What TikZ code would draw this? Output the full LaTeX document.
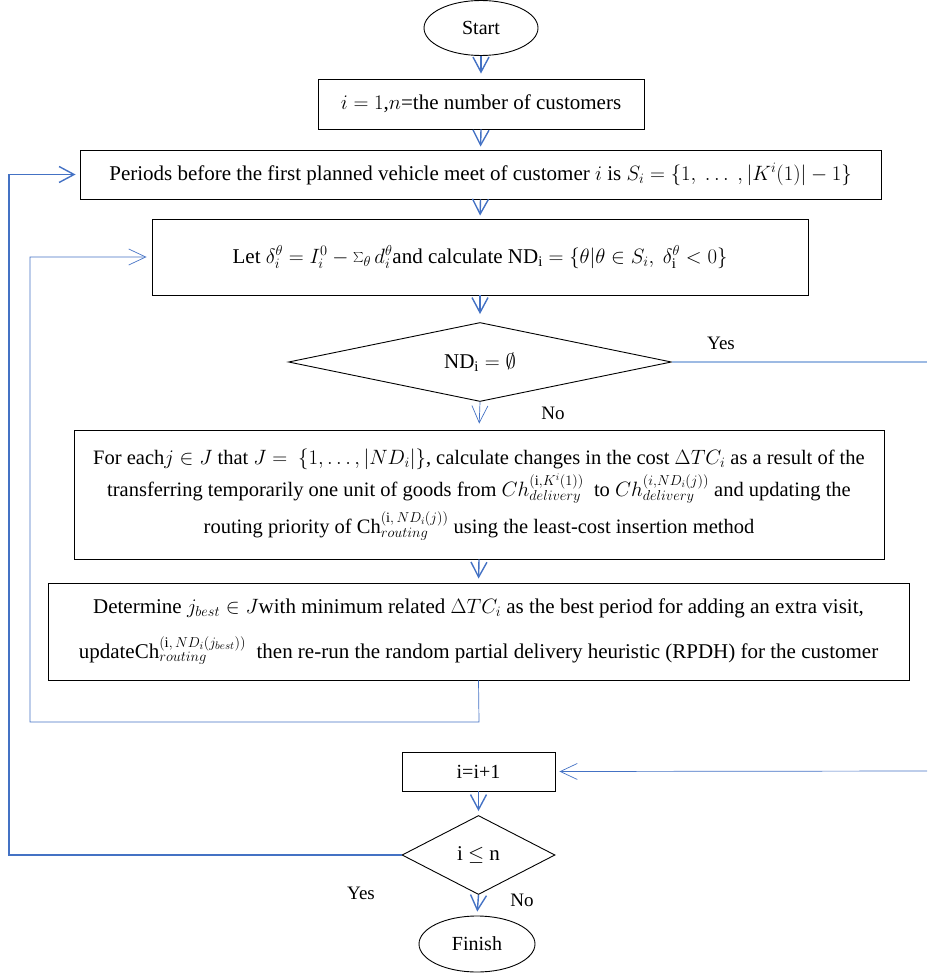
\documentclass[tikz,border=0pt]{standalone}
\usepackage{fontspec}
\setmainfont{Liberation Serif}
\usetikzlibrary{shapes.geometric,arrows.meta}
\definecolor{flowblue}{HTML}{4472C4}
\definecolor{paleblue}{HTML}{9DBAE3}
\begin{document}
\begin{tikzpicture}[x=1pt,y=-1pt,
  box/.style={draw=black,line width=0.9pt,inner sep=0pt,align=center,
    font=\fontsize{21}{34}\selectfont},
  term/.style={draw=black,line width=0.9pt,ellipse,inner sep=0pt,
    font=\fontsize{20}{22}\selectfont},
  test/.style={draw=black,line width=0.9pt,diamond,inner sep=0pt,
    font=\fontsize{21}{24}\selectfont},
  lbl/.style={font=\fontsize{19}{21}\selectfont,inner sep=0pt},
  flow/.style={draw=flowblue,line width=1.4pt,
    -{Straight Barb[length=15pt,width=16pt,line width=1.4pt]}},
  thinflow/.style={draw=flowblue,line width=0.7pt,
    -{Straight Barb[length=17pt,width=16pt,line width=0.7pt]}},
  yesline/.style={draw=paleblue,line width=1.5pt}]
\useasboundingbox (0,0) rectangle (927,976);

% process steps
\node[term,minimum width=114,minimum height=55] (start) at (481,28) {Start};
\node[box,minimum width=326,minimum height=50] (init) at (481,104)
  {$i = 1$,$n$=the number of customers};
\node[box,minimum width=801,minimum height=49] (periods) at (480.5,174.5)
  {Periods before the first planned vehicle meet of customer $i$ is
   $S_i = \{1,\ \dots\ ,|K^i(1)| - 1\}$};
\node[box,minimum width=656,minimum height=76] (delta) at (480,257)
  {Let $\delta_i^\theta = I_i^0 - \sum_\theta d_i^\theta$and calculate
   $\mathrm{ND_i} = \{\theta|\theta \in S_i,\ \delta^{\theta}_{\mathrm{i}} < 0\}$};
\node[test,minimum width=383,minimum height=79,aspect=4.85] (empty) at (480,362)
  {$\mathrm{ND_i} = \emptyset$};
\node[box,minimum width=810,minimum height=129,font=\fontsize{20.5}{34}\selectfont] (eval) at (479,494.5)
  {For each$j \in J$ that $J =\ \{1, \dots, |ND_i|\}$,\ calculate changes in the cost $\Delta TC_i$ as a result of the\\[-2pt]
   transferring temporarily one unit of goods from $Ch_{delivery}^{(\mathrm{i},K^i(1))}$\ \ to $Ch_{delivery}^{(i,ND_i(j))}$ and updating the\\[3pt]
   routing priority of $\mathrm{Ch}_{routing}^{(\mathrm{i},\,ND_i(j))}$ using the least-cost insertion method};
\node[box,minimum width=861,minimum height=97] (best) at (478.5,631.5)
  {Determine $j_{best} \in J$with minimum related $\Delta TC_i$ as the best period for adding an extra visit,\\[11pt]
   update$\mathrm{Ch}_{routing}^{(\mathrm{i},\,ND_i(j_{best}))}$\ \ then re-run the random partial delivery heuristic (RPDH) for the customer};
\node[box,minimum width=153,minimum height=39,font=\fontsize{20}{22}\selectfont] (next) at (478.5,771.5) {i=i+1};
\node[test,minimum width=153,minimum height=79,aspect=1.94] (more) at (478.5,855)
  {i $\le$ n};
\node[term,minimum width=116,minimum height=56] (finish) at (477,944) {Finish};

% branch labels
\node[lbl] (yes1) at (721,343) {Yes};
\node[lbl] (no1) at (553,413) {No};
\node[lbl] (yes2) at (361,893) {Yes};
\node[lbl] (no2) at (522,900) {No};

% loop corners and off-page ends
\coordinate (yesend) at (927,362);
\coordinate (backin) at (927,771);
\coordinate (lp1) at (479,722);
\coordinate (lp2) at (30,722);
\coordinate (lp3) at (30,257);
\coordinate (op1) at (9,855);
\coordinate (op2) at (9,174.5);

% main flow
\draw[flow,shorten >=5pt] (start.south) -- (init.north);
\draw[flow,shorten >=3pt] (init.south) -- (periods.north);
\draw[flow,shorten >=3pt] (periods.south) -- (delta.north);
\draw[flow,shorten >=8pt] (delta.south) -- (empty.north);
\draw[thinflow,shorten >=6pt] (empty.south) -- (eval.north);
\draw[flow,shorten >=4pt] (eval.south) -- (best.north);
\draw[flow,shorten >=4pt] (next.south) -- (more.north);
\draw[flow,shorten >=4pt] (more.south) -- (finish.north);

% Yes branch of the first test and its return into i=i+1
\draw[yesline] (empty.east) -- (yesend);
\draw[thinflow,shorten >=4pt] (backin) -- (next.east);

% inner loop back to the delta step
\draw[thinflow,shorten >=5pt] (best.south) -- (lp1) -- (lp2) -- (lp3) -- (delta.west);

% outer loop back to the next customer
\draw[flow,line width=1.8pt,shorten >=4pt] (more.west) -- (op1) -- (op2) -- (periods.west);
\end{tikzpicture}
\end{document}
